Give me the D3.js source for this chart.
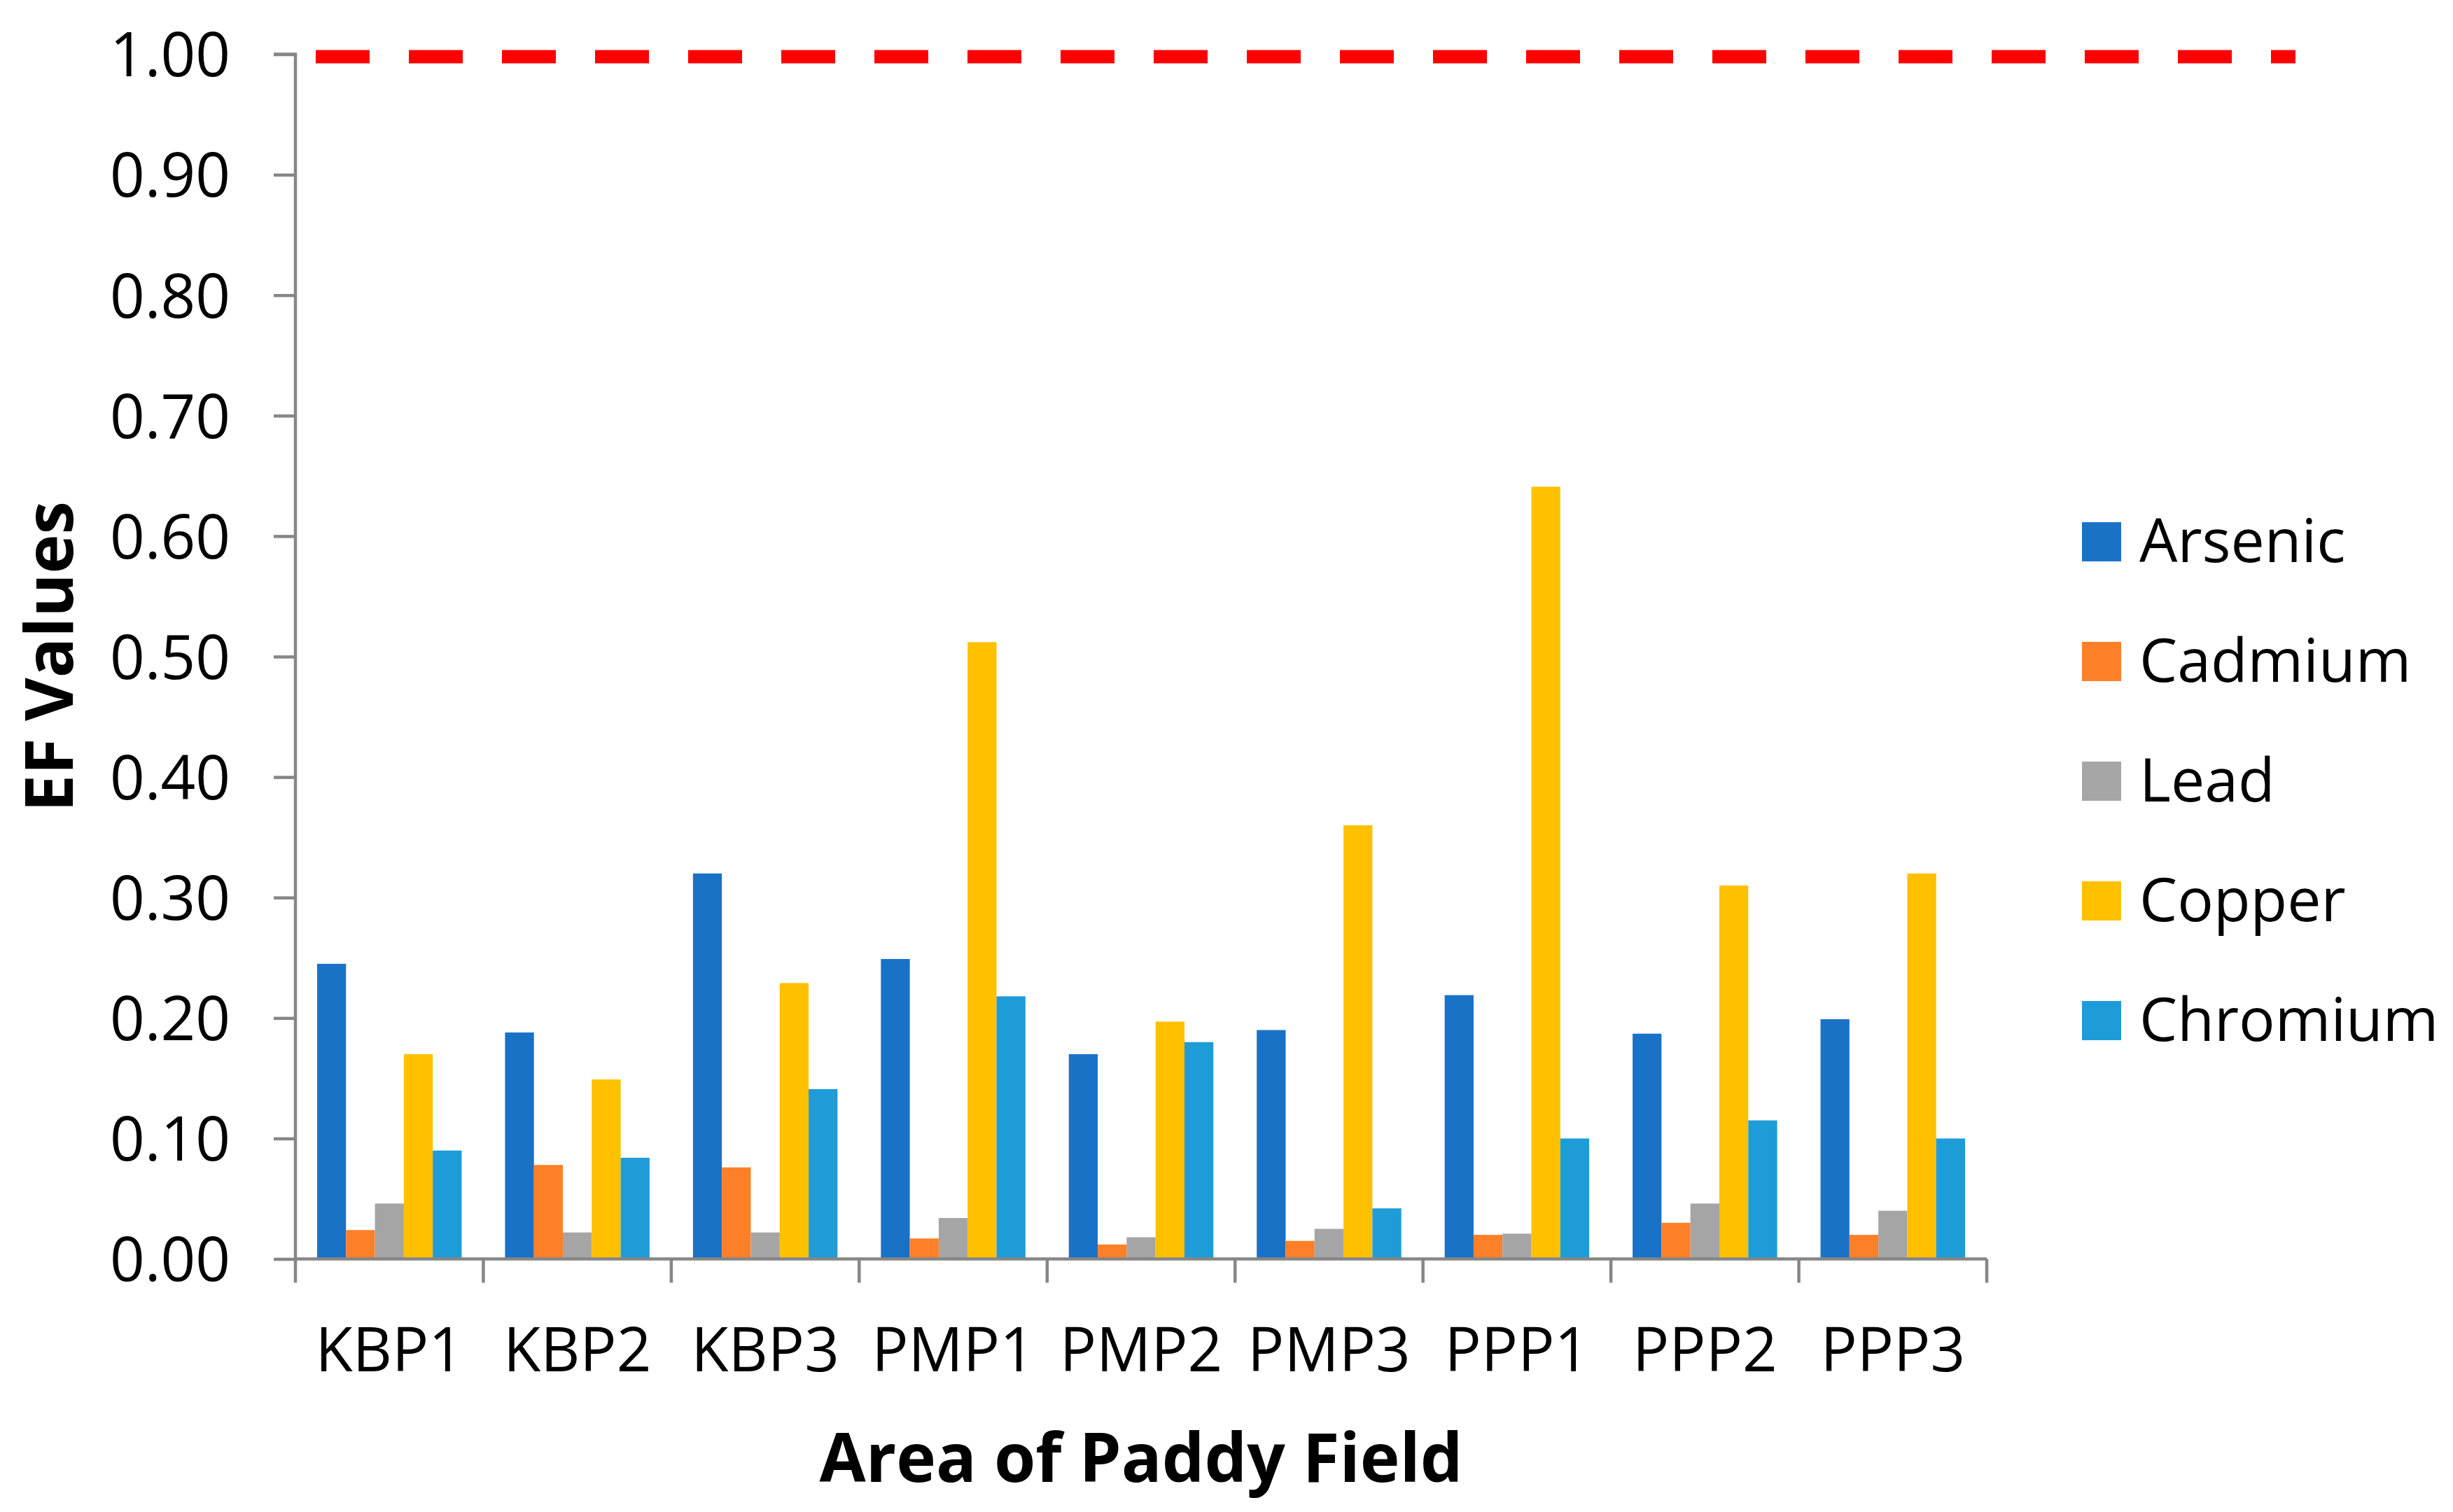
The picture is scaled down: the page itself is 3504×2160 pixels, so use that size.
<!DOCTYPE html>
<html>
<head>
<meta charset="utf-8">
<script src="https://cdn.jsdelivr.net/npm/d3@7"></script>
<style>
  html, body { margin: 0; padding: 0; background: #fff; }
  svg { display: block; }
  text { font-family: "Open Sans", "Noto Sans", sans-serif; fill: #000; }
</style>
</head>
<body>
<svg id="chart" width="3504" height="2160"></svg>
<script>
// ---- data ----
const categories = ["KBP1", "KBP2", "KBP3", "PMP1", "PMP2", "PMP3", "PPP1", "PPP2", "PPP3"];
const seriesNames = ["Arsenic", "Cadmium", "Lead", "Copper", "Chromium"];
const arsenic  = [0.245, 0.188, 0.320, 0.249, 0.170, 0.190, 0.219, 0.187, 0.199];
const cadmium  = [0.024, 0.078, 0.076, 0.017, 0.012, 0.015, 0.020, 0.030, 0.020];
const lead     = [0.046, 0.022, 0.022, 0.034, 0.018, 0.025, 0.021, 0.046, 0.040];
const copper   = [0.170, 0.149, 0.229, 0.512, 0.197, 0.360, 0.641, 0.310, 0.320];
const chromium = [0.090, 0.084, 0.141, 0.218, 0.180, 0.042, 0.100, 0.115, 0.100];
const yTicks = [0, 0.1, 0.2, 0.3, 0.4, 0.5, 0.6, 0.7, 0.8, 0.9, 1.0];
const thresholdValue = 1.0;
const seriesValues = [arsenic, cadmium, lead, copper, chromium];
const colors = ["#1A72C7", "#FD7F28", "#A5A5A5", "#FFC000", "#1E9CD8"];

// ---- layout ----
const svg = d3.select("#chart");
const plotLeft = 422, plotRight = 2838, plotTop = 77.5, plotBottom = 1798.5;
const axisColor = "#868686";

const y = d3.scaleLinear().domain([0, 1]).range([plotBottom, plotTop]);
const x0 = d3.scaleBand().domain(categories).range([plotLeft, plotRight]).padding(0);
const x1 = d3.scaleBand().domain(seriesNames).range([0, x0.bandwidth()])
  .paddingInner(0).paddingOuter(0.75);
const color = d3.scaleOrdinal().domain(seriesNames).range(colors);

// bars
const groups = svg.append("g").selectAll("g")
  .data(categories)
  .join("g")
  .attr("transform", d => `translate(${x0(d)},0)`);

groups.selectAll("rect")
  .data((c, i) => seriesNames.map((s, j) => ({ s, v: seriesValues[j][i] })))
  .join("rect")
  .attr("x", d => x1(d.s))
  .attr("width", x1.bandwidth())
  .attr("y", d => y(d.v))
  .attr("height", d => y(0) - y(d.v))
  .attr("fill", d => color(d.s));

// y axis
const yAxis = d3.axisLeft(y)
  .tickValues(yTicks)
  .tickFormat(d3.format(".2f"))
  .tickSize(31)
  .tickPadding(62);
const gy = svg.append("g").attr("transform", `translate(${plotLeft},0)`).call(yAxis);
gy.select(".domain").attr("stroke", axisColor).attr("stroke-width", 4.5)
  .attr("d", `M-31,${y(1)}H0V${y(0)}`);
gy.selectAll(".tick line").attr("stroke", axisColor).attr("stroke-width", 4.5);
gy.selectAll(".tick text")
  .style("font-family", '"Open Sans", "Noto Sans", sans-serif')
  .style("font-size", "87px")
  .attr("fill", "#000")
  .attr("dy", "0.36em");

// x axis
const xAxis = d3.axisBottom(x0).tickSize(0).tickPadding(0);
const gx = svg.append("g").attr("transform", `translate(0,${plotBottom})`).call(xAxis);
gx.select(".domain").attr("stroke", axisColor).attr("stroke-width", 4.5)
  .attr("d", `M${plotLeft},0H${plotRight}`);
gx.selectAll(".tick text")
  .style("font-family", '"Open Sans", "Noto Sans", sans-serif')
  .style("font-size", "87px")
  .attr("fill", "#000")
  .attr("y", 160.5)
  .attr("dy", 0);
// boundary tick marks
const boundaries = categories.map(c => x0(c)).concat([x0(categories[categories.length - 1]) + x0.bandwidth()]);
gx.selectAll("line.bound")
  .data(boundaries)
  .join("line")
  .attr("class", "bound")
  .attr("x1", d => d).attr("x2", d => d)
  .attr("y1", 0).attr("y2", 34)
  .attr("stroke", axisColor).attr("stroke-width", 4.5);

// threshold dashed line
svg.append("line")
  .attr("x1", 451).attr("x2", 3279)
  .attr("y1", y(thresholdValue) + 3.5).attr("y2", y(thresholdValue) + 3.5)
  .attr("stroke", "#FF0000")
  .attr("stroke-width", 19)
  .attr("stroke-dasharray", "77,56");

// axis titles
svg.append("text")
  .attr("transform", `translate(104,938) rotate(-90)`)
  .attr("text-anchor", "middle")
  .style("font-weight", "bold")
  .style("font-size", "95px")
  .text("EF Values");

svg.append("text")
  .attr("x", (plotLeft + plotRight) / 2)
  .attr("y", 2117)
  .attr("text-anchor", "middle")
  .style("font-weight", "bold")
  .style("font-size", "96px")
  .text("Area of Paddy Field");

// legend
const legend = svg.append("g").attr("transform", "translate(2974,746)");
const li = legend.selectAll("g")
  .data(seriesNames)
  .join("g")
  .attr("transform", (d, i) => `translate(0,${i * 171})`);
li.append("rect")
  .attr("width", 56).attr("height", 56)
  .attr("fill", d => color(d));
li.append("text")
  .attr("x", 82)
  .attr("y", 57)
  .style("font-size", "86px")
  .text(d => d);
</script>
</body>
</html>
